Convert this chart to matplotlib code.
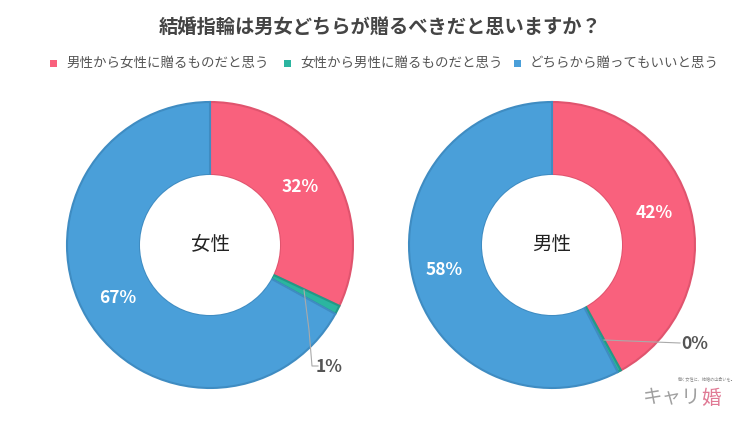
import matplotlib.pyplot as plt
from matplotlib.patches import Circle

plt.rcParams['font.family'] = ['Noto Sans CJK JP', 'DejaVu Sans']

title = '結婚指輪は男女どちらが贈るべきだと思いますか？'
categories = ['男性から女性に贈るものだと思う', '女性から男性に贈るものだと思う', 'どちらから贈ってもいいと思う']
groups = ['女性', '男性']
female_values = [32, 1, 67]
male_values = [42, 0.4, 57.6]
male_labels = ['42%', '0%', '58%']
female_labels = ['32%', '1%', '67%']

colors = ['#F9617D', '#2BB5A0', '#4A9FD9']
edges = ['#E0546E', '#239987', '#3F8CC2']

W, H = 750, 422
fig = plt.figure(figsize=(W / 100, H / 100), dpi=100)
ax = fig.add_axes([0, 0, 1, 1])
ax.set_xlim(0, W)
ax.set_ylim(0, H)
ax.set_aspect('equal')
ax.axis('off')


def py(y):
    # pixel y (from top) -> data y
    return H - y


fig.text(380 / W, 1 - 27 / H, title, ha='center', va='center', fontsize=13.9,
         fontweight='bold', color='#444444')

# legend
leg_x = [53, 287, 517]
for x, lab, c in zip(leg_x, categories, colors):
    ax.add_patch(plt.Rectangle((x - 3.5, py(63) - 3.5), 7, 7, color=c, lw=0))
    ax.text(x + 13, py(63), lab, ha='left', va='center', fontsize=9.7, color='#555555')

R = 143
r_in = 70
centers = [(210, py(245)), (552, py(245))]
for (cx, cy), vals, name in zip(centers, [female_values, male_values], groups):
    wedges, _ = ax.pie(vals, colors=colors, startangle=90, counterclock=False,
                       center=(cx, cy), radius=R,
                       wedgeprops=dict(width=R - r_in, linewidth=1.5))
    for w, e in zip(wedges, edges):
        w.set_edgecolor(e)
    ax.add_patch(Circle((cx, cy), r_in, facecolor='white', edgecolor='none', zorder=5))
    ax.text(cx, cy, name, ha='center', va='center', fontsize=14, color='#222222', zorder=6)

ax.set_xlim(0, W)
ax.set_ylim(0, H)

# in-wedge labels
lab_style = dict(ha='center', va='center', fontsize=12.5, fontweight='bold', color='white')
ax.text(300, py(187), female_labels[0], **lab_style)
ax.text(118, py(298), female_labels[2], **lab_style)
ax.text(654, py(213), male_labels[0], **lab_style)
ax.text(444, py(270), male_labels[2], **lab_style)

# leader labels
out_style = dict(ha='left', va='center', fontsize=12.5, fontweight='bold', color='#555555')
ax.plot([304, 309, 312, 318], [py(290), py(330), py(366), py(366)], color='#aaaaaa', lw=0.8)
ax.text(316, py(367), female_labels[1], **out_style)
ax.plot([604, 680], [py(340), py(343)], color='#aaaaaa', lw=0.8)
ax.text(681, py(344), male_labels[1], **out_style)

# logo
ax.text(707, py(379), '働く女性に、結婚の出会いを。', ha='center', va='center', fontsize=3, color='#888888')
ax.text(701, py(398), 'キャリ', ha='right', va='center', fontsize=14, color='#a0a0a0')
ax.text(701, py(398), '婚', ha='left', va='center', fontsize=14, color='#e07a95')

fig.savefig('out.png', dpi=100)
